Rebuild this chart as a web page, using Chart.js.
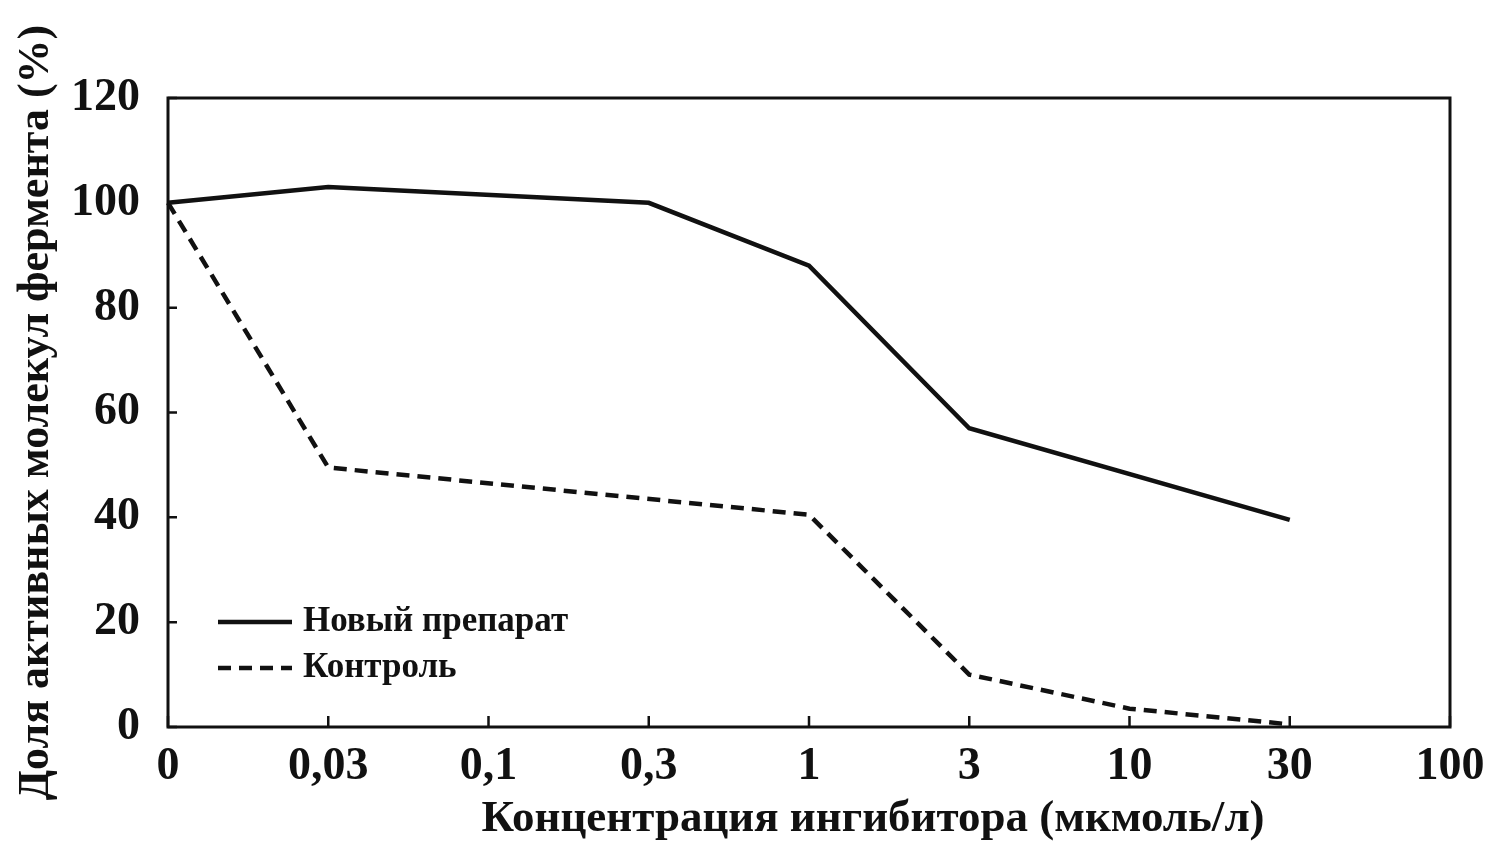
<!DOCTYPE html>
<html lang="ru">
<head>
<meta charset="UTF-8">
<title>Доля активных молекул фермента</title>
<script src="https://cdn.jsdelivr.net/npm/chart.js@4.4.1/dist/chart.umd.min.js"></script>
<style>
  html, body { margin: 0; padding: 0; background: #fff; }
  #wrap { width: 1500px; height: 842px; }
</style>
</head>
<body>
<div id="wrap"><canvas id="myChart" width="1500" height="842"></canvas></div>
<script>
// concentration categories (мкмоль/л)
var labels = ['0', '0,03', '0,1', '0,3', '1', '3', '10', '30', '100'];
// % active enzyme molecules; null = no point at that concentration
var newDrug = [100, 103, null, 100, 88, 57, null, 39.5, null];
var control = [100, 49.5, null, null, 40.5, 10, 3.5, 0.5, null];
var yTicks = [0, 20, 40, 60, 80, 100, 120];

var serif = "'Liberation Serif', 'DejaVu Serif', serif";
var ink = '#111';

// frame, inward tick marks, legend inside the plot and x title
var framePlugin = {
  id: 'frame',
  afterDraw: function (chart) {
    var ctx = chart.ctx, a = chart.chartArea;
    var x = chart.scales.x, y = chart.scales.y;
    ctx.save();
    ctx.strokeStyle = ink;
    ctx.lineWidth = 3;
    ctx.strokeRect(a.left, a.top, a.right - a.left, a.bottom - a.top);

    ctx.lineWidth = 2.5;
    ctx.beginPath();
    for (var i = 0; i < y.ticks.length; i++) {
      var py = y.getPixelForTick(i);
      ctx.moveTo(a.left, py);
      ctx.lineTo(a.left + 9, py);
    }
    for (var j = 0; j < x.ticks.length; j++) {
      var px = x.getPixelForTick(j);
      ctx.moveTo(px, a.bottom);
      ctx.lineTo(px, a.bottom - 11);
    }
    ctx.stroke();

    // legend
    ctx.font = 'bold 35px ' + serif;
    ctx.fillStyle = ink;
    ctx.textBaseline = 'middle';
    chart.data.datasets.forEach(function (ds, k) {
      var ly = a.bottom - 105 + k * 46;
      ctx.beginPath();
      ctx.lineWidth = ds.borderWidth;
      ctx.setLineDash(ds.borderDash || []);
      ctx.moveTo(a.left + 50, ly);
      ctx.lineTo(a.left + 124, ly);
      ctx.stroke();
      ctx.setLineDash([]);
      ctx.fillText(ds.label, a.left + 135, ly);
    });

    // x axis title, set right of centre as in the original
    ctx.font = 'bold 45px ' + serif;
    ctx.textAlign = 'center';
    ctx.fillText('Концентрация ингибитора (мкмоль/л)', a.left + (a.right - a.left) * 0.55, 819);
    ctx.restore();
  }
};

var ctx = document.getElementById('myChart').getContext('2d');
var chart = new Chart(ctx, {
  type: 'line',
  data: {
    labels: labels,
    datasets: [
      {
        label: 'Новый препарат',
        data: newDrug,
        borderColor: ink,
        borderWidth: 4.5,
        pointRadius: 0,
        tension: 0,
        spanGaps: true
      },
      {
        label: 'Контроль',
        data: control,
        borderColor: ink,
        borderWidth: 4.5,
        borderDash: [13, 8],
        pointRadius: 0,
        tension: 0,
        spanGaps: true
      }
    ]
  },
  options: {
    responsive: false,
    animation: false,
    layout: { padding: { left: 0, right: 50, top: 98, bottom: 0 } },
    plugins: {
      legend: { display: false },
      tooltip: { enabled: false }
    },
    scales: {
      x: {
        type: 'category',
        offset: false,
        grid: { display: false, drawTicks: false },
        border: { display: false },
        ticks: {
          color: ink,
          padding: 13,
          maxRotation: 0,
          autoSkip: false,
          font: { family: serif, size: 46, weight: 'bold' }
        },
        afterFit: function (s) { s.height = 115; }
      },
      y: {
        min: 0,
        max: 120,
        grid: { display: false, drawTicks: false },
        border: { display: false },
        afterBuildTicks: function (s) {
          s.ticks = yTicks.map(function (v) { return { value: v }; });
        },
        ticks: {
          color: ink,
          padding: 28,
          font: { family: serif, size: 46, weight: 'bold' }
        },
        title: {
          display: true,
          text: 'Доля активных молекул фермента (%)',
          color: ink,
          padding: { top: 10, bottom: 0 },
          font: { family: serif, size: 44, weight: 'bold' }
        },
        afterFit: function (s) { s.width = 168; }
      }
    }
  },
  plugins: [framePlugin]
});
</script>
</body>
</html>
